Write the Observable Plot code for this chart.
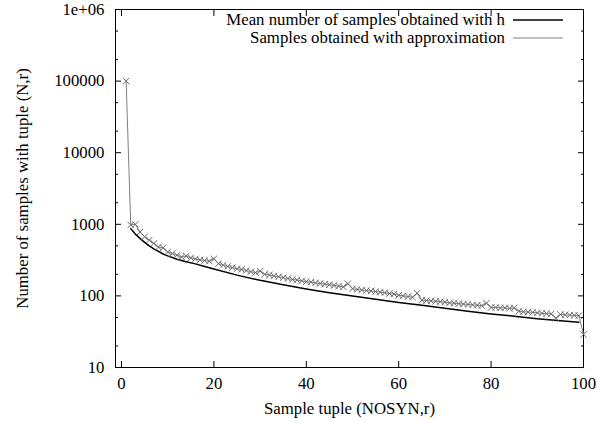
<!DOCTYPE html>
<html>
<head>
<meta charset="utf-8">
<script src="https://cdn.jsdelivr.net/npm/d3@7"></script>
<script src="https://cdn.jsdelivr.net/npm/@observablehq/plot@0.6"></script>
<style>
  html, body { margin: 0; padding: 0; background: white; }
  #chart { width: 598px; height: 422px; }
</style>
</head>
<body>
<div id="chart"></div>
<script>
// ---- data ----
const xLabel = "Sample tuple (NOSYN,r)";
const yLabel = "Number of samples with tuple (N,r)";
const seriesNames = ["Mean number of samples obtained with h", "Samples obtained with approximation"];
const seriesColors = ["#000000", "#808080"];

const xTicks = [0, 20, 40, 60, 80, 100];
const yTicks = [10, 100, 1000, 10000, 100000, 1000000];
const yMinorTicks = [20, 50, 200, 500, 2000, 5000, 20000, 50000, 200000, 500000];

// Mean number of samples obtained with h (black curve)
const meanX = [2, 3, 4, 5, 6, 7, 8, 9, 10, 12, 14, 16, 18, 20, 25, 30, 35, 40, 45, 50, 55, 60, 65, 70, 75, 80, 85, 90, 95, 99];
const meanY = [870, 730, 635, 560, 500, 455, 418, 385, 362, 325, 300, 280, 258, 238, 195, 165, 143, 125, 111, 100, 90, 81, 74, 67, 61, 56, 52, 48, 45, 43];

// Samples obtained with approximation (gray, x = 1..100)
const approxX = d3.range(1, 101);
const approxY = [
  100000, 980, 1000, 780, 670, 600, 540, 480, 470, 410,
  390, 370, 350, 360, 340, 328, 318, 312, 305, 330,
  282, 268, 258, 248, 240, 234, 226, 218, 212, 222,
  200, 196, 190, 185, 180, 175, 170, 166, 162, 158,
  156, 152, 149, 146, 143, 140, 137, 134, 148, 126,
  123, 121, 119, 117, 115, 113, 111, 108, 106, 102,
  100, 98, 96, 109, 87, 86, 85, 84, 83, 82,
  80, 79, 78, 77, 76, 75, 74, 73, 79, 69,
  69, 68, 68, 67, 68, 61, 60, 59.5, 59, 58,
  57, 56.5, 56, 49, 55, 54.5, 54, 53.5, 53, 29
];

const meanData = meanX.map((x, i) => ({x, y: meanY[i]}));
const approxData = approxX.map((x, i) => ({x, y: approxY[i]}));
const legendData = seriesNames.map((name, i) => ({name, color: seriesColors[i], row: i}));

const FONT = "Liberation Serif";
const FONT_SIZE = 16.8;
const yFmt = d => d === 1000000 ? "1e+06" : String(d);
const blank = () => "";

const plot = Plot.plot({
  width: 598,
  height: 422,
  marginLeft: 115,
  marginRight: 15,
  marginTop: 9,
  marginBottom: 55,
  style: {background: "white", color: "black", overflow: "visible"},
  x: {domain: [-1.3, 100]},
  y: {type: "log", domain: [10, 1000000]},
  marks: [
    Plot.frame({stroke: "black", strokeWidth: 1}),
    // labels
    Plot.axisX(xTicks, {anchor: "bottom", tickSize: 0, tickPadding: 10, label: xLabel, labelAnchor: "center", labelOffset: 46, labelArrow: "none"}),
    Plot.axisY(yTicks, {anchor: "left", tickSize: 0, tickPadding: 11, tickFormat: yFmt, label: yLabel, labelAnchor: "center", labelOffset: 99, labelArrow: "none"}),
    // inward ticks
    Plot.axisX(xTicks, {anchor: "bottom", tickSize: -6, tickFormat: blank, label: null}),
    Plot.axisX(xTicks, {anchor: "top", tickSize: -6, tickFormat: blank, label: null}),
    Plot.axisY(yTicks, {anchor: "left", tickSize: -6, tickFormat: blank, label: null}),
    Plot.axisY(yTicks, {anchor: "right", tickSize: -6, tickFormat: blank, label: null}),
    Plot.axisY(yMinorTicks, {anchor: "left", tickSize: -3, tickFormat: blank, label: null}),
    Plot.axisY(yMinorTicks, {anchor: "right", tickSize: -3, tickFormat: blank, label: null}),
    // series
    Plot.line(meanData, {x: "x", y: "y", stroke: seriesColors[0], strokeWidth: 1.5}),
    Plot.line(approxData, {x: "x", y: "y", stroke: seriesColors[1], strokeWidth: 1}),
    Plot.dot(approxData, {x: "x", y: "y", symbol: "times", r: 3, stroke: "#6a6a6a", strokeWidth: 1})
  ]
});

document.getElementById("chart").appendChild(plot);

// legend (positions relative to the plot frame)
const svgSel = d3.select(plot);
const xr = plot.scale("x").range;
const yr = plot.scale("y").range;
const frameRight = Math.max(...xr), frameTop = Math.min(...yr);
const lg = svgSel.append("g");
legendData.forEach((d, i) => {
  const cy = frameTop + 11 + i * 18;
  lg.append("text").attr("x", frameRight - 78).attr("y", cy).attr("dy", "0.32em")
    .attr("text-anchor", "end").attr("fill", "black").text(d.name);
  lg.append("line").attr("x1", frameRight - 70).attr("x2", frameRight - 20)
    .attr("y1", cy).attr("y2", cy).attr("stroke", d.color).attr("stroke-width", d.row === 0 ? 1.5 : 1);
});

// serif font on every text element
svgSel.attr("font-family", FONT).style("font-family", FONT);
svgSel.selectAll("g").attr("font-family", null).attr("font-size", null);
svgSel.selectAll("text")
  .attr("font-family", FONT)
  .style("font-family", FONT)
  .style("font-size", FONT_SIZE + "px");
</script>
</body>
</html>
